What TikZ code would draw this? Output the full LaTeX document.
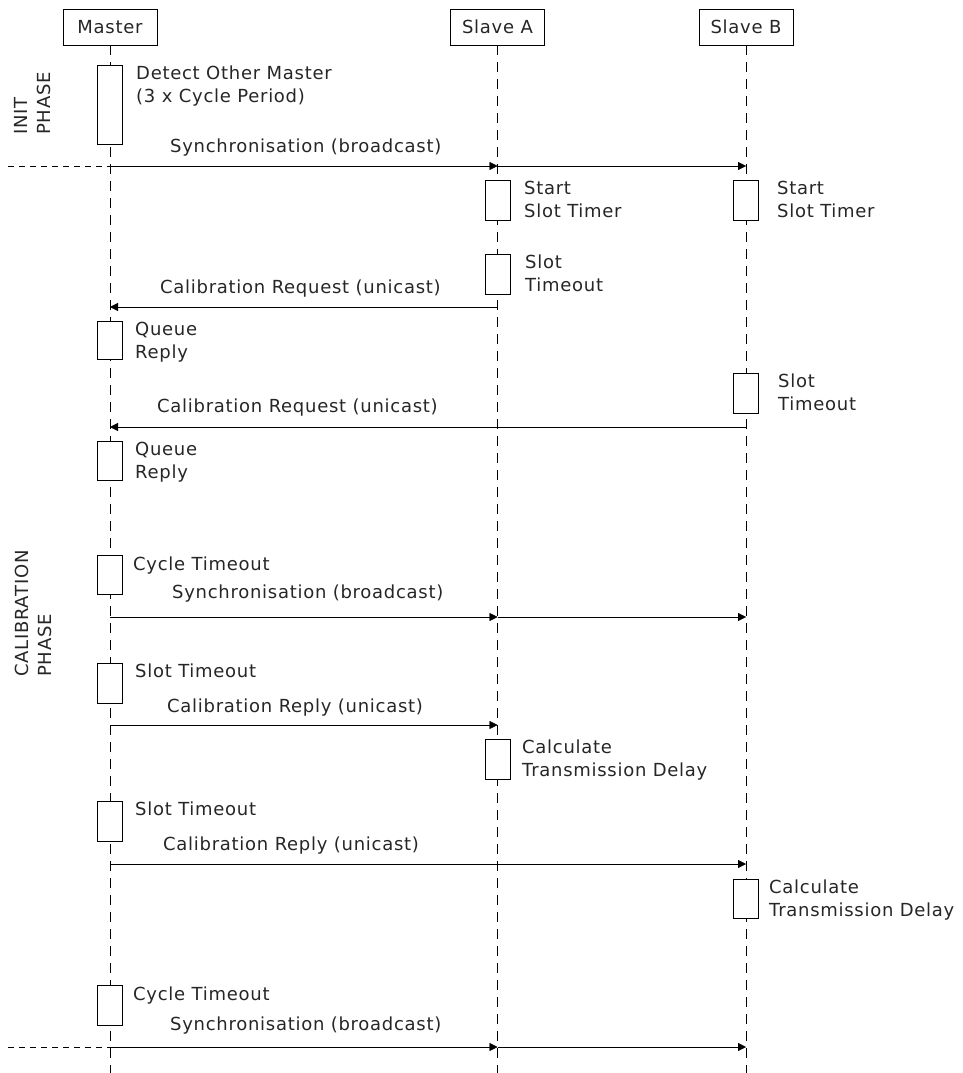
\documentclass[tikz,border=0pt]{standalone}
\usepackage{fontspec}
\setmainfont{DejaVu Sans}[LetterSpace=4]
\usetikzlibrary{arrows.meta}
\begin{document}
\begin{tikzpicture}[x=1pt,y=-1pt,
  font=\fontsize{18}{23}\selectfont,
  every node/.style={text=black!85},
  head/.style={draw, minimum width=94pt, minimum height=36pt, inner sep=0, anchor=north},
  act/.style={draw, fill=white, minimum width=25pt, inner sep=0, anchor=north},
  lifeline/.style={dash pattern=on 10pt off 7pt},
  phase/.style={dash pattern=on 6pt off 5pt},
  msg/.style={-{Triangle[length=8pt,width=8pt]}},
  note/.style={anchor=north west, inner sep=0, align=left},
  msglabel/.style={anchor=base west, inner sep=0},
  phaselabel/.style={rotate=90, anchor=west, inner sep=0, align=left}]
\useasboundingbox (0,0) rectangle (963,1073);

% participants
\node[head] (master) at (110,9) {Master};
\node[head] (slaveA) at (497.5,9) {Slave A};
\node[head] (slaveB) at (746,9) {Slave B};

% lifelines
\coordinate (mEnd) at (110,1073);
\coordinate (aEnd) at (497.5,1073);
\coordinate (bEnd) at (746,1073);
\draw[lifeline] (master.south) -- (mEnd);
\draw[lifeline] (slaveA.south) -- (aEnd);
\draw[lifeline] (slaveB.south) -- (bEnd);

% phase labels
\node[phaselabel] (init) at (33,135) {INIT\\PHASE};
\node[phaselabel] (calib) at (33,677) {CALIBRATION\\PHASE};

% init phase
\node[act, minimum height=79pt] (detect) at (110,65) {};
\node[note] (detectT) at (136,66) {Detect Other Master\\(3 x Cycle Period)};

\coordinate (sepL1) at (8,166);
\coordinate (m1) at (110,166);
\coordinate (a1) at (497.5,166);
\coordinate (b1) at (746,166);
\draw[phase] (sepL1) -- (m1);
\draw[msg] (m1) -- (a1);
\draw[msg] (a1) -- (b1);
\node[msglabel] (sync1) at (170,152) {Synchronisation (broadcast)};

% calibration phase
\node[act, minimum height=40pt] (startA) at (497.5,180) {};
\node[note] (startAT) at (524,181) {Start\\Slot Timer};
\node[act, minimum height=40pt] (startB) at (746,180) {};
\node[note] (startBT) at (777,181) {Start\\Slot Timer};

\node[act, minimum height=40pt] (slotA) at (497.5,254) {};
\node[note] (slotAT) at (525,255) {Slot\\Timeout};
\coordinate (a2) at (497.5,307);
\coordinate (m2) at (110,307);
\draw[msg] (a2) -- (m2);
\node[msglabel] (req1) at (160,293) {Calibration Request (unicast)};

\node[act, minimum height=38pt] (queue1) at (110,321) {};
\node[note] (queue1T) at (135,322) {Queue\\Reply};

\node[act, minimum height=40pt] (slotB) at (746,373) {};
\node[note] (slotBT) at (778,374) {Slot\\Timeout};
\coordinate (b3) at (746,427);
\coordinate (m3) at (110,427);
\draw[msg] (b3) -- (m3);
\node[msglabel] (req2) at (157,412) {Calibration Request (unicast)};

\node[act, minimum height=39pt] (queue2) at (110,441) {};
\node[note] (queue2T) at (135,442) {Queue\\Reply};

\node[act, minimum height=39pt] (cycle1) at (110,555) {};
\node[note] (cycle1T) at (133,557) {Cycle Timeout};
\coordinate (m4) at (110,617);
\coordinate (a4) at (497.5,617);
\coordinate (b4) at (746,617);
\draw[msg] (m4) -- (a4);
\draw[msg] (a4) -- (b4);
\node[msglabel] (sync2) at (172,598) {Synchronisation (broadcast)};

\node[act, minimum height=40pt] (slotM1) at (110,663) {};
\node[note] (slotM1T) at (135,664) {Slot Timeout};
\coordinate (m5) at (110,725);
\coordinate (a5) at (497.5,725);
\draw[msg] (m5) -- (a5);
\node[msglabel] (rep1) at (167,712) {Calibration Reply (unicast)};

\node[act, minimum height=40pt] (calcA) at (497.5,739) {};
\node[note] (calcAT) at (522,740) {Calculate\\Transmission Delay};

\node[act, minimum height=40pt] (slotM2) at (110,801) {};
\node[note] (slotM2T) at (135,802) {Slot Timeout};
\coordinate (m6) at (110,864);
\coordinate (b6) at (746,864);
\draw[msg] (m6) -- (b6);
\node[msglabel] (rep2) at (163,850) {Calibration Reply (unicast)};

\node[act, minimum height=39pt] (calcB) at (746,879) {};
\node[note] (calcBT) at (769,880) {Calculate\\Transmission Delay};

\node[act, minimum height=40pt] (cycle2) at (110,985) {};
\node[note] (cycle2T) at (133,987) {Cycle Timeout};
\coordinate (sepL2) at (8,1047);
\coordinate (m7) at (110,1047);
\coordinate (a7) at (497.5,1047);
\coordinate (b7) at (746,1047);
\draw[phase] (sepL2) -- (m7);
\draw[msg] (m7) -- (a7);
\draw[msg] (a7) -- (b7);
\node[msglabel] (sync3) at (170,1030) {Synchronisation (broadcast)};
\end{tikzpicture}
\end{document}
